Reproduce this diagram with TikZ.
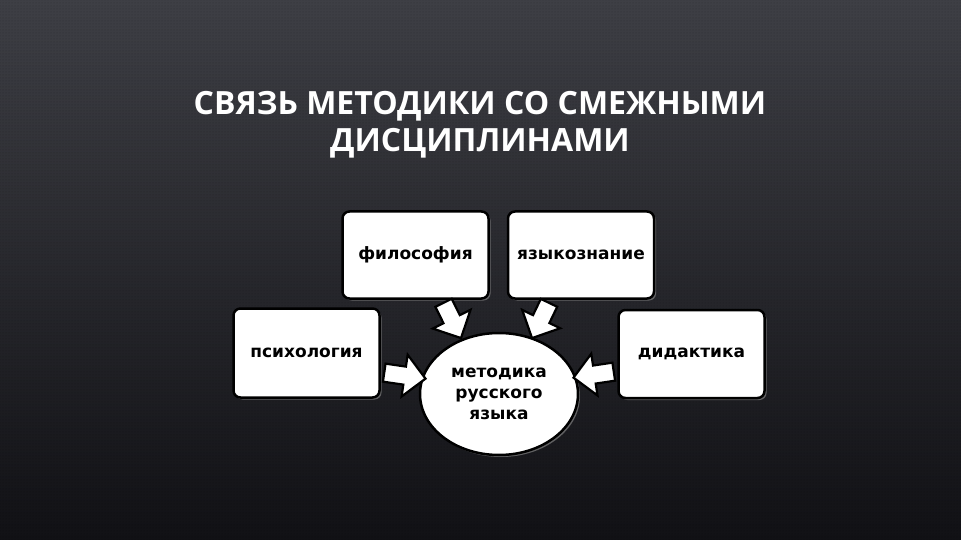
\documentclass[tikz,border=0pt]{standalone}
\usepackage{fontspec}
\usepackage{tikz}
\usetikzlibrary{shapes.geometric, shapes.arrows, positioning, calc, shadows, patterns}
\newfontfamily\titleFont{Open Sans}
\newfontfamily\boxFont{DejaVu Sans}
\definecolor{bgTop}{RGB}{62,63,69}
\definecolor{bgMid}{RGB}{40,41,48}
\definecolor{bgBot}{RGB}{17,17,21}
\tikzstyle{discBox} = [shape=rectangle, draw=black, text=black, line width=2.5pt,
	rounded corners=7pt, align=center, fill=white,
	font=\boxFont\bfseries\fontsize{17}{21}\selectfont,
	drop shadow={opacity=.7, shadow xshift=2pt, shadow yshift=-2pt}]
\tikzstyle{DiscBox} = [discBox, minimum width=146pt, minimum height=87pt]
\tikzstyle{centerBox} = [discBox, shape=ellipse, rounded corners=0pt, inner sep=0pt,
	minimum width=158pt, minimum height=122pt]
\tikzstyle{blockArrow} = [single arrow, draw=black, fill=white, line width=2.2pt,
	minimum width=40pt, single arrow head extend=12pt, inner sep=0pt,
	text height=16pt, text depth=0pt, sloped, allow upside down]
\tikzstyle{titleText} = [text=white, align=center,
	font=\titleFont\bfseries\fontsize{32}{37}\selectfont]

\begin{document}
\begin{tikzpicture}[x=1pt, y=-1pt]
	\useasboundingbox (0,0) rectangle (961,540);
	\shade[top color=bgTop, middle color=bgMid, bottom color=bgBot] (0,0) rectangle (961,540);
	\fill[pattern=dots, pattern color=black, opacity=.25] (0,0) rectangle (961,540);

	\node (Title) at (480,125) [titleText] {СВЯЗЬ МЕТОДИКИ СО СМЕЖНЫМИ\\ДИСЦИПЛИНАМИ};

	\node (Filos) at (415.5,255) [DiscBox] {философия};
	\node (Yazyk) at (581,255) [DiscBox] {языкознание};
	\node (Psych) at (306.5,353) [DiscBox, minimum height=89pt] {психология};
	\node (Didakt) at (691.5,354) [DiscBox, minimum height=88pt] {дидактика};
	\node (Metod) at (499,394) [centerBox] {методика\\русского\\языка};

	\coordinate (fTail) at ($(Filos.south)+(26,-1)$);
	\coordinate (fTip) at ($(Metod.center)+(-40,-60)$);
	\coordinate (yTail) at ($(Yazyk.south)+(-30,-1)$);
	\coordinate (yTip) at ($(Metod.center)+(35,-60)$);
	\coordinate (pTail) at ($(Psych.east)+(-1,19)$);
	\coordinate (pTip) at ($(Metod.center)+(-78,-16)$);
	\coordinate (dTail) at ($(Didakt.west)+(1,17)$);
	\coordinate (dTip) at ($(Metod.center)+(79,-17)$);

	\foreach \a in {f,y,p,d}
		\path let \p1=($(\a Tip)-(\a Tail)$), \n1={veclen(\x1,\y1)} in
			(\a Tail) -- node[blockArrow, minimum height=\n1] {} (\a Tip);
\end{tikzpicture}
\end{document}
